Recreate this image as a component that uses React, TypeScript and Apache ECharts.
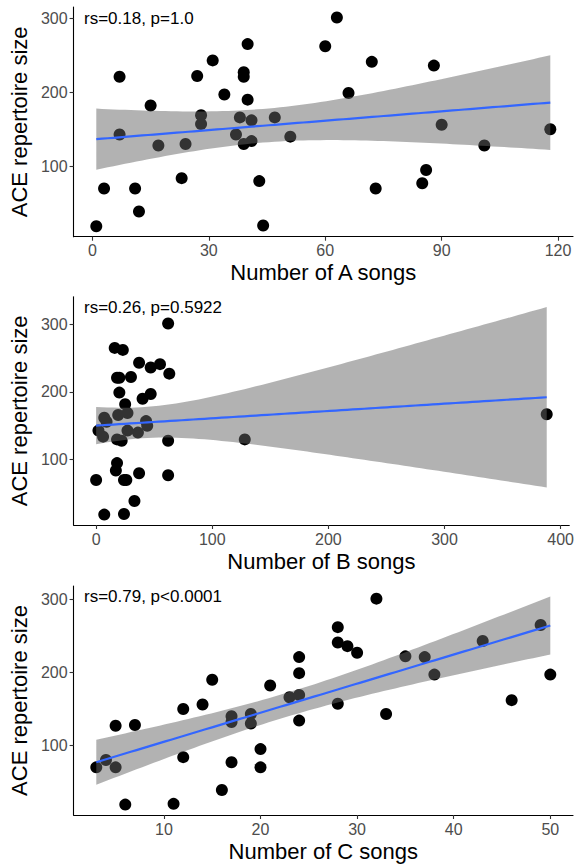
import React, { useEffect, useRef } from "react";
import * as echarts from "echarts";

// ---- Data ----
const aSongs = [1, 3, 7, 7, 11, 12, 15, 17, 23, 24, 27, 28, 28, 31, 34, 37, 38, 39, 39, 39, 40, 40, 41, 41, 43, 44, 47, 51, 60, 63, 66, 72, 73, 85, 86, 88, 90, 101, 118];
const aSize = [19, 70, 221, 143, 70, 39, 182, 128, 84, 130, 222, 169, 157, 243, 197, 143, 166, 227, 221, 130, 265, 190, 162, 134, 80, 20, 166, 140, 262, 301, 199, 241, 70, 77, 95, 236, 156, 128, 150];

const bSongs = [0, 7, 24, 33, 24, 37, 62, 17, 18, 62, 128, 388, 62, 16, 23, 37, 47, 55, 63, 18, 30, 20, 20, 47, 40, 25, 2, 6, 7, 19, 27, 43, 36, 27, 22, 18, 26, 44, 9];
const bSize = [70, 19, 20, 39, 70, 80, 77, 84, 95, 128, 130, 167, 301, 265, 262, 243, 236, 241, 227, 221, 222, 221, 199, 197, 190, 182, 143, 134, 162, 166, 169, 157, 140, 143, 128, 130, 70, 150, 156];

const cSongs = [3, 4, 5, 5, 6, 7, 11, 12, 12, 14, 15, 16, 17, 17, 17, 19, 19, 20, 20, 21, 23, 24, 24, 24, 24, 28, 28, 28, 29, 30, 32, 33, 35, 37, 38, 43, 46, 49, 50];
const cSize = [70, 80, 70, 127, 19, 128, 20, 150, 84, 156, 190, 39, 140, 132, 77, 143, 130, 95, 70, 182, 166, 221, 199, 169, 134, 262, 241, 157, 236, 227, 301, 143, 222, 221, 197, 243, 162, 265, 197];

const aTicks = [0, 30, 60, 90, 120];
const bTicks = [0, 100, 200, 300, 400];
const cTicks = [10, 20, 30, 40, 50];
const yTicks = [100, 200, 300];

const xTitles = ["Number of A songs", "Number of B songs", "Number of C songs"];
const yTitle = "ACE repertoire size";
const notes = ["rs=0.18, p=1.0", "rs=0.26, p=0.5922", "rs=0.79, p<0.0001"];

// ---- linear model with 95% confidence band (as geom_smooth(method = "lm")) ----
const T975 = 2.026; // t quantile, df = 37
function lmBand(xs: number[], ys: number[]) {
  const n = xs.length;
  const mx = xs.reduce((s, v) => s + v, 0) / n;
  const my = ys.reduce((s, v) => s + v, 0) / n;
  let sxx = 0, sxy = 0;
  for (let i = 0; i < n; i++) {
    sxx += (xs[i] - mx) ** 2;
    sxy += (xs[i] - mx) * (ys[i] - my);
  }
  const b = sxy / sxx;
  const a = my - b * mx;
  let sse = 0;
  for (let i = 0; i < n; i++) sse += (ys[i] - a - b * xs[i]) ** 2;
  const s2 = sse / (n - 2);
  const x0 = Math.min(...xs), x1 = Math.max(...xs);
  const line: number[][] = [], hi: number[][] = [], lo: number[][] = [];
  const N = 80;
  for (let k = 0; k < N; k++) {
    const x = x0 + ((x1 - x0) * k) / (N - 1);
    const yh = a + b * x;
    const se = Math.sqrt(s2 * (1 / n + (x - mx) ** 2 / sxx));
    line.push([x, yh]);
    hi.push([x, yh + T975 * se]);
    lo.push([x, yh - T975 * se]);
  }
  return { line, hi, lo };
}

function expand(lo: number, hi: number) {
  const d = (hi - lo) * 0.05;
  return [lo - d, hi + d];
}

const FONT = "'Liberation Sans', Arial, Helvetica, sans-serif";

export default function App() {
  const ref = useRef<HTMLDivElement>(null);

  useEffect(() => {
    if (!ref.current) return;
    const chart = echarts.init(ref.current, undefined, { renderer: "svg" });

    const panels = [
      { xs: aSongs, ys: aSize, ticks: aTicks },
      { xs: bSongs, ys: bSize, ticks: bTicks },
      { xs: cSongs, ys: cSize, ticks: cTicks },
    ];
    const grids = [
      { left: 73.3, top: 7, width: 499.7, height: 229.7 },
      { left: 73.3, top: 296.7, width: 499.7, height: 228.3 },
      { left: 73.3, top: 586, width: 499.7, height: 229 },
    ];

    const xAxes: any[] = [];
    const yAxes: any[] = [];
    const series: any[] = [];

    panels.forEach((p, i) => {
      const fit = lmBand(p.xs, p.ys);
      const [xmin, xmax] = expand(Math.min(...p.xs), Math.max(...p.xs));
      const yAll = [...p.ys, ...fit.hi.map((d) => d[1]), ...fit.lo.map((d) => d[1])];
      const [ymin, ymax] = expand(Math.min(...yAll), Math.max(...yAll));

      xAxes.push({
        type: "value",
        gridIndex: i,
        min: xmin,
        max: xmax,
        name: xTitles[i],
        nameLocation: "middle",
        nameGap: 25,
        nameTextStyle: { color: "#000", fontSize: 22, fontFamily: FONT },
        axisLine: { show: true, onZero: false, lineStyle: { color: "#000", width: 1.1 } },
        axisTick: { show: true, length: 4, customValues: p.ticks, lineStyle: { color: "#333", width: 1.1 } },
        axisLabel: { customValues: p.ticks, color: "#4d4d4d", fontSize: 16, fontFamily: FONT, margin: 6 },
        splitLine: { show: false },
      });
      yAxes.push({
        type: "value",
        gridIndex: i,
        min: ymin,
        max: ymax,
        name: yTitle,
        nameLocation: "middle",
        nameGap: 40,
        nameTextStyle: { color: "#000", fontSize: 22, fontFamily: FONT },
        axisLine: { show: true, onZero: false, lineStyle: { color: "#000", width: 1.1 } },
        axisTick: { show: true, length: 4, customValues: yTicks, lineStyle: { color: "#333", width: 1.1 } },
        axisLabel: { customValues: yTicks, color: "#4d4d4d", fontSize: 16, fontFamily: FONT, margin: 6 },
        splitLine: { show: false },
      });

      series.push({
        type: "scatter",
        xAxisIndex: i,
        yAxisIndex: i,
        data: p.xs.map((x, k) => [x, p.ys[k]]),
        symbol: "circle",
        symbolSize: 12,
        itemStyle: { color: "#000", opacity: 1 },
        emphasis: { disabled: true },
        z: 2,
      });
      series.push({
        type: "custom",
        xAxisIndex: i,
        yAxisIndex: i,
        data: [fit.line[0]],
        z: 3,
        renderItem: (params: any, api: any) => {
          const pts = [
            ...fit.hi.map((d) => api.coord(d)),
            ...fit.lo.slice().reverse().map((d) => api.coord(d)),
          ];
          return {
            type: "polygon",
            shape: { points: pts },
            style: { fill: "rgba(102,102,102,0.5)", stroke: "none" },
          };
        },
      });
      series.push({
        type: "line",
        xAxisIndex: i,
        yAxisIndex: i,
        data: fit.line,
        showSymbol: false,
        lineStyle: { color: "#3366FF", width: 2.2 },
        z: 4,
      });
    });

    const noteTops = [10, 299, 588];
    chart.setOption({
      animation: false,
      backgroundColor: "#fff",
      textStyle: { fontFamily: FONT },
      grid: grids,
      xAxis: xAxes,
      yAxis: yAxes,
      series,
      graphic: notes.map((t, i) => ({
        type: "text",
        left: 84,
        top: noteTops[i],
        style: { text: t, fill: "#000", fontSize: 17, fontFamily: FONT },
      })),
    });

    return () => chart.dispose();
  }, []);

  return (
    <div
      ref={ref}
      style={{ position: "absolute", left: 0, top: 0, width: 577, height: 864 }}
    />
  );
}
